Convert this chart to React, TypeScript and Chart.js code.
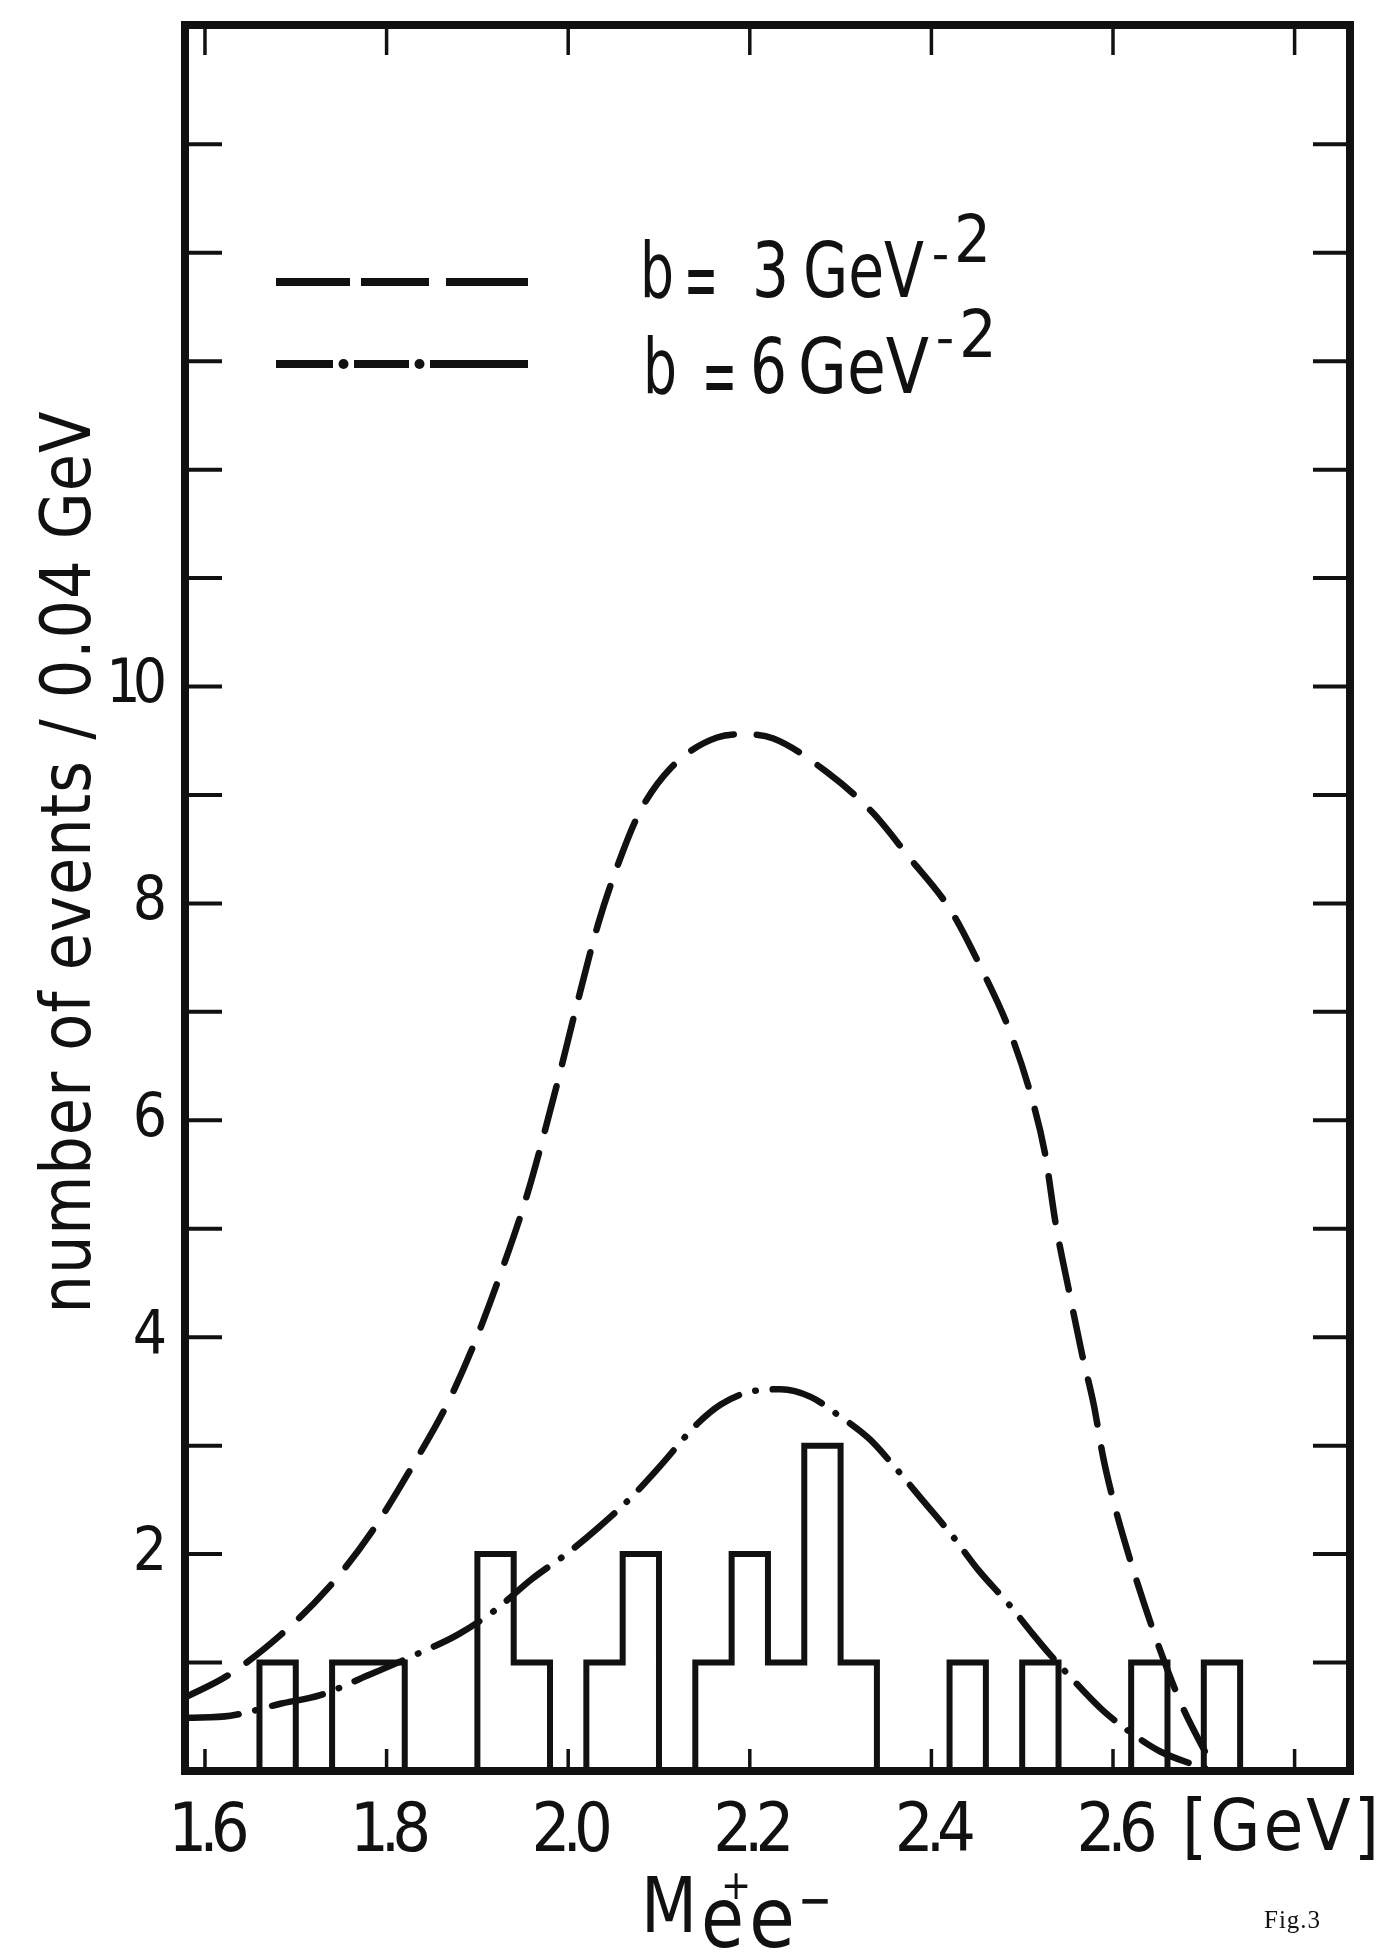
import React, { useEffect, useRef } from "react";
import { Chart, registerables } from "chart.js";

Chart.register(...registerables);

const INK = "#111111";
const FONT = '"Liberation Sans Narrow", "DejaVu Sans Condensed", "DejaVu Sans", sans-serif';

// ---- data ----
// histogram bin edges (GeV) and events per 0.04 GeV bin
const binEdges = [1.62, 1.66, 1.70, 1.74, 1.78, 1.82, 1.86, 1.90, 1.94, 1.98, 2.02, 2.06, 2.10, 2.14, 2.18, 2.22, 2.26, 2.30, 2.34, 2.38, 2.42, 2.46, 2.50, 2.54, 2.58, 2.62, 2.66, 2.70, 2.74];
const eventCounts = [0, 1, 0, 1, 1, 0, 0, 2, 1, 0, 1, 2, 0, 1, 2, 1, 3, 1, 0, 0, 1, 0, 1, 0, 0, 1, 0, 1];

// b = 3 GeV^-2 (dashed)
const b3Mass = [1.580, 1.625, 1.684, 1.736, 1.784, 1.829, 1.866, 1.896, 1.927, 1.955, 1.987, 2.010, 2.033, 2.054, 2.078, 2.112, 2.164, 2.195, 2.226, 2.285, 2.335, 2.375, 2.421, 2.455, 2.485, 2.509, 2.525, 2.537, 2.551, 2.566, 2.579, 2.589, 2.598, 2.612, 2.634, 2.653, 2.676, 2.700, 2.711];
const b3Events = [0.685, 0.88, 1.26, 1.69, 2.21, 2.82, 3.37, 3.93, 4.62, 5.32, 6.31, 7.08, 7.81, 8.34, 8.83, 9.24, 9.53, 9.56, 9.52, 9.21, 8.84, 8.43, 7.94, 7.40, 6.85, 6.25, 5.70, 5.04, 4.45, 3.84, 3.37, 2.90, 2.57, 2.14, 1.55, 1.09, 0.60, 0.20, 0.03];

// b = 6 GeV^-2 (dash-dot)
const b6Mass = [1.580, 1.628, 1.683, 1.727, 1.779, 1.834, 1.879, 1.919, 1.960, 2.001, 2.034, 2.069, 2.100, 2.142, 2.168, 2.197, 2.234, 2.267, 2.296, 2.332, 2.361, 2.390, 2.423, 2.452, 2.485, 2.510, 2.530, 2.565, 2.590, 2.627, 2.652, 2.685, 2.707];
const b6Events = [0.49, 0.51, 0.62, 0.70, 0.88, 1.08, 1.26, 1.48, 1.77, 2.02, 2.25, 2.52, 2.80, 3.20, 3.38, 3.49, 3.52, 3.45, 3.29, 3.06, 2.79, 2.50, 2.17, 1.85, 1.54, 1.28, 1.08, 0.76, 0.55, 0.31, 0.18, 0.07, 0.01];

// axes
const X_MIN = 1.578;
const X_MAX = 2.861;
const Y_MIN = 0;
const Y_MAX = 16.1;
const xLabelValues = [1.6, 1.8, 2.0, 2.2, 2.4, 2.6];
const xTickLabels = ["1.6", "1.8", "2.0", "2.2", "2.4", "2.6"];
const xMarkValues = [1.6, 1.8, 2.0, 2.2, 2.4, 2.6, 2.8];
const yLabelValues = [2, 4, 6, 8, 10];
const yTickLabels = ["2", "4", "6", "8", "10"];
const yMarkValues = [1, 2, 3, 4, 5, 6, 7, 8, 9, 10, 11, 12, 13, 14, 15];

const xUnitLabel = "[GeV]";
const yTitle = "number of events / 0.04 GeV";
const legendB3 = ["b", "=", "3", "GeV", "\u2212", "2"];
const legendB6 = ["b", "=", "6", "GeV", "\u2212", "2"];
const figLabel = "Fig.3";

const W = 1377;
const H = 1953;

const histPoints = [
  ...eventCounts.map((c, i) => ({ x: binEdges[i], y: c })),
  { x: binEdges[binEdges.length - 1], y: 0 },
];
const b3Points = b3Mass.map((m, i) => ({ x: m, y: b3Events[i] }));
const b6Points = b6Mass.map((m, i) => ({ x: m, y: b6Events[i] }));

const f = (size: number) => `${size}px ${FONT}`;

const framePlugin = {
  id: "frameAndText",
  beforeDraw(chart: any) {
    // tighten the hand-lettered looking tick labels
    (chart.ctx as any).letterSpacing = "-8px";
  },
  beforeDatasetsDraw(chart: any) {
    (chart.ctx as any).letterSpacing = "0px";
  },
  afterDatasetsDraw(chart: any) {
    const { ctx, chartArea: a, scales } = chart;
    const xs = scales.x;
    const ys = scales.y;
    const seg = (x1: number, y1: number, x2: number, y2: number) => {
      ctx.beginPath();
      ctx.moveTo(x1, y1);
      ctx.lineTo(x2, y2);
      ctx.stroke();
    };
    ctx.save();
    (ctx as any).letterSpacing = "0px";
    ctx.strokeStyle = INK;
    ctx.fillStyle = INK;
    ctx.setLineDash([]);
    ctx.lineCap = "butt";
    // inward ticks, left and right
    ctx.lineWidth = 4;
    for (const v of yMarkValues) {
      const py = ys.getPixelForValue(v);
      seg(a.left, py, a.left + 37, py);
      seg(a.right - 37, py, a.right, py);
    }
    // inward ticks, top and bottom
    ctx.lineWidth = 3.5;
    for (const v of xMarkValues) {
      const px = xs.getPixelForValue(v);
      seg(px, a.top, px, a.top + 30);
      seg(px, a.bottom - 22, px, a.bottom);
    }
    // frame
    ctx.lineWidth = 8;
    ctx.lineJoin = "miter";
    ctx.strokeRect(a.left, a.top, a.right - a.left, a.bottom - a.top);

    // legend glyphs
    ctx.lineWidth = 8;
    ctx.lineCap = "butt";
    const y1 = 282;
    const y2 = 364;
    [[276, 350], [361, 429], [446, 528]].forEach(([s, e]) => seg(s, y1, e, y1));
    [[276, 333], [354, 409], [430, 528]].forEach(([s, e]) => seg(s, y2, e, y2));
    [343.5, 419.5].forEach((cx) => {
      ctx.beginPath();
      ctx.arc(cx, y2, 5, 0, Math.PI * 2);
      ctx.fill();
    });

    // legend text
    ctx.textAlign = "left";
    const drawLegend = (
      parts: string[],
      px: number[],
      pw: number[],
      base: number,
      eqBase: number,
      minusY: number,
      supBase: number
    ) => {
      ctx.textBaseline = "alphabetic";
      ctx.font = f(76);
      ctx.fillText(parts[0], px[0], base, pw[0]);
      ctx.font = f(84);
      ctx.fillText(parts[1], px[1], eqBase, pw[1]);
      ctx.font = f(76);
      ctx.fillText(parts[2], px[2], base, pw[2]);
      ctx.fillText(parts[3], px[3], base, pw[3]);
      ctx.font = f(50);
      ctx.textBaseline = "middle";
      ctx.fillText(parts[4], px[4], minusY, pw[4]);
      ctx.textBaseline = "alphabetic";
      ctx.font = f(66);
      ctx.fillText(parts[5], px[5], supBase, pw[5]);
    };
    drawLegend(legendB3, [640, 684, 752, 803, 932, 954], [34, 34, 37, 121, 17, 37], 297, 308, 260, 262);
    drawLegend(legendB6, [643, 702, 750, 798, 936, 959], [34, 35, 37, 131, 18, 41], 393, 404, 344, 357);

    // y-axis title
    ctx.save();
    ctx.translate(90, 862);
    ctx.rotate(-Math.PI / 2);
    ctx.textAlign = "center";
    ctx.textBaseline = "alphabetic";
    ctx.font = f(70);
    (ctx as any).letterSpacing = "1px";
    ctx.fillText(yTitle, 0, 0, 903);
    ctx.restore();

    // unit label to the right of the x tick labels
    ctx.font = f(72);
    (ctx as any).letterSpacing = "3px";
    ctx.textAlign = "left";
    ctx.textBaseline = "alphabetic";
    ctx.fillText(xUnitLabel, 1182, 1850);
    (ctx as any).letterSpacing = "0px";

    // x-axis title  M e+e-
    ctx.font = f(76);
    ctx.fillText("M", 641, 1932, 56);
    ctx.font = f(84);
    ctx.fillText("e", 701, 1947, 43);
    ctx.fillText("e", 749, 1947, 46);
    ctx.font = f(40);
    ctx.textAlign = "center";
    ctx.textBaseline = "middle";
    ctx.fillText("+", 736, 1889);
    ctx.font = f(56);
    ctx.fillText("\u2212", 815, 1904, 34);

    // figure label
    ctx.textAlign = "left";
    ctx.textBaseline = "alphabetic";
    ctx.font = '25px "Liberation Serif", "DejaVu Serif", serif';
    (ctx as any).letterSpacing = "1px";
    ctx.fillText(figLabel, 1264, 1928);
    (ctx as any).letterSpacing = "0px";
    ctx.restore();
  },
};

export default function App() {
  const ref = useRef<HTMLCanvasElement>(null);
  useEffect(() => {
    const canvas = ref.current;
    if (!canvas) return;
    const chart = new Chart(canvas, {
      type: "line",
      data: {
        datasets: [
          {
            label: "events",
            data: histPoints,
            stepped: "before",
            borderColor: INK,
            borderWidth: 6,
            borderJoinStyle: "miter",
            borderCapStyle: "butt",
            pointRadius: 0,
            fill: false,
          },
          {
            label: "b = 3 GeV^-2",
            data: b3Points,
            borderColor: INK,
            borderWidth: 6.5,
            borderDash: [46, 23],
            borderCapStyle: "round",
            cubicInterpolationMode: "monotone",
            pointRadius: 0,
            fill: false,
          },
          {
            label: "b = 6 GeV^-2",
            data: b6Points,
            borderColor: INK,
            borderWidth: 6.5,
            borderDash: [52, 17, 0.5, 17],
            borderCapStyle: "round",
            cubicInterpolationMode: "monotone",
            pointRadius: 0,
            fill: false,
          },
        ],
      } as any,
      options: {
        responsive: false,
        animation: false,
        events: [],
        layout: { padding: { left: 0, top: 25, right: 27, bottom: 0 } },
        plugins: {
          legend: { display: false },
          tooltip: { enabled: false },
          title: { display: false },
        },
        scales: {
          x: {
            type: "linear",
            min: X_MIN,
            max: X_MAX,
            grid: { display: false },
            border: { display: false },
            ticks: {
              autoSkip: false,
              maxRotation: 0,
              minRotation: 0,
              padding: 14,
              color: INK,
              font: { family: FONT, size: 68 },
              callback: (_v: any, i: number) => xTickLabels[i],
            },
            afterBuildTicks: (s: any) => {
              s.ticks = xLabelValues.map((v) => ({ value: v }));
            },
            afterFit: (s: any) => {
              s.height = H - 1771;
              s.paddingLeft = 0;
              s.paddingRight = 0;
            },
          },
          y: {
            type: "linear",
            min: Y_MIN,
            max: Y_MAX,
            grid: { display: false },
            border: { display: false },
            ticks: {
              autoSkip: false,
              padding: 18,
              color: INK,
              font: { family: FONT, size: 60 },
              callback: (_v: any, i: number) => yTickLabels[i],
            },
            afterBuildTicks: (s: any) => {
              s.ticks = yLabelValues.map((v) => ({ value: v }));
            },
            afterFit: (s: any) => {
              s.width = 185;
              s.paddingTop = 0;
              s.paddingBottom = 0;
            },
          },
        },
      } as any,
      plugins: [framePlugin],
    });
    return () => chart.destroy();
  }, []);
  return (
    <div style={{ position: "absolute", left: 0, top: 0, width: W, height: H, background: "#fff", overflow: "hidden" }}>
      <canvas ref={ref} width={W} height={H} style={{ width: W, height: H, display: "block" }} />
    </div>
  );
}
